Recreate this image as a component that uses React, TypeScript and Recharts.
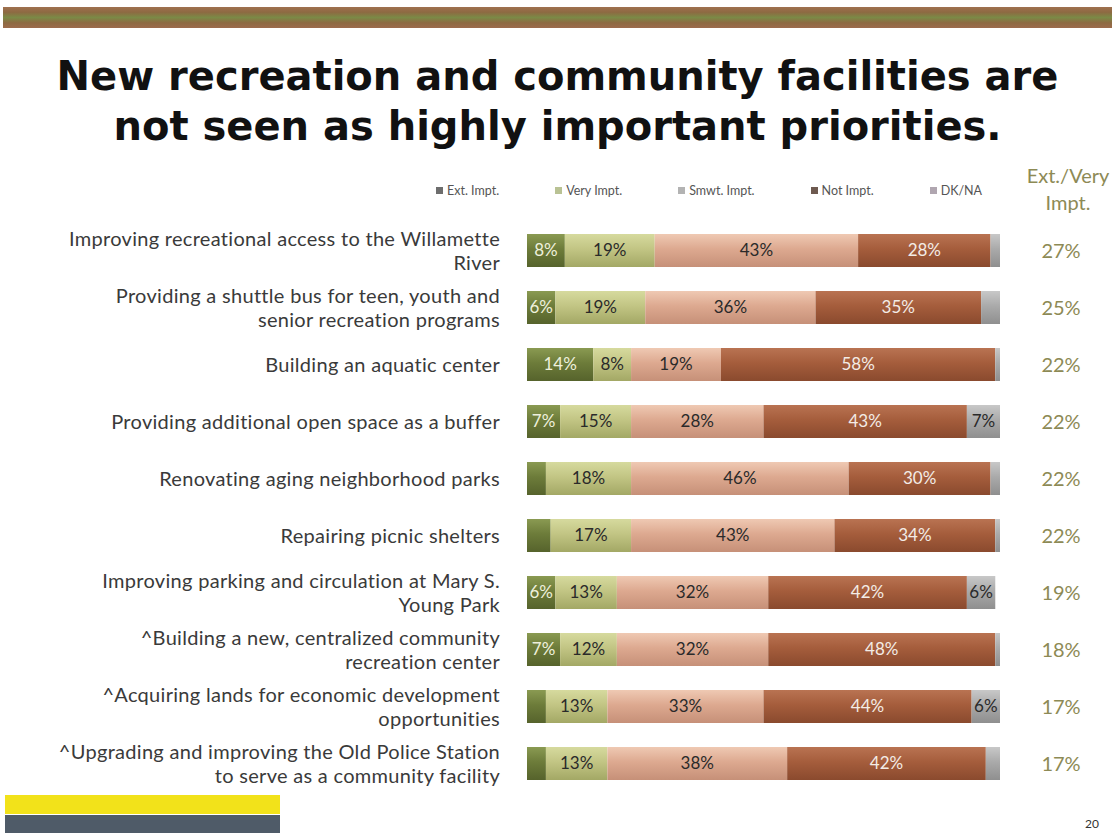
import React from "react";
import { BarChart, Bar, XAxis, YAxis, Legend, LabelList } from "recharts";

/* ── survey data: share of respondents per importance rating ── */

const categories = [
  "Improving recreational access to the Willamette\nRiver",
  "Providing a shuttle bus for teen, youth and\nsenior recreation programs",
  "Building an aquatic center",
  "Providing additional open space as a buffer",
  "Renovating aging neighborhood parks",
  "Repairing picnic shelters",
  "Improving parking and circulation at Mary S.\nYoung Park",
  "^Building a new, centralized community\nrecreation center",
  "^Acquiring lands for economic development\nopportunities",
  "^Upgrading and improving the Old Police Station\nto serve as a community facility",
];

const extImpt = [8, 6, 14, 7, 4, 5, 6, 7, 4, 4];
const veryImpt = [19, 19, 8, 15, 18, 17, 13, 12, 13, 13];
const smwtImpt = [43, 36, 19, 28, 46, 43, 32, 32, 33, 38];
const notImpt = [28, 35, 58, 43, 30, 34, 42, 48, 44, 42];
const dkNa = [2, 4, 1, 7, 2, 1, 6, 1, 6, 3];
const extVery = ["27%", "25%", "22%", "22%", "22%", "22%", "19%", "18%", "17%", "17%"];

const data = categories.map((name, i) => ({
  name,
  total: extVery[i],
  ext: extImpt[i],
  very: veryImpt[i],
  smwt: smwtImpt[i],
  not: notImpt[i],
  dk: dkNa[i],
}));

const series = [
  { key: "ext", label: "Ext. Impt.", top: "#8a9a52", mid: "#6d7c3a", bot: "#56632c", swatch: "#6d6d6d", text: "#eef0dc" },
  { key: "very", label: "Very Impt.", top: "#d6da9e", mid: "#c2c584", bot: "#a3a865", swatch: "#b9c294", text: "#2a2a2a" },
  { key: "smwt", label: "Smwt. Impt.", top: "#efc9b3", mid: "#dda990", bot: "#c69078", swatch: "#b3b3b3", text: "#2a2a2a" },
  { key: "not", label: "Not Impt.", top: "#b97352", mid: "#a55d3c", bot: "#8a4a2e", swatch: "#6e5a50", text: "#f3ece6" },
  { key: "dk", label: "DK/NA", top: "#c8c8c8", mid: "#aaaaaa", bot: "#8f8f8f", swatch: "#b0a6b0", text: "#2a2a2a" },
];

const barFont = "Lato, 'Open Sans', sans-serif";

function CategoryTick(props: any) {
  const { x, y, payload } = props;
  const lines: string[] = String(payload.value).split("\n");
  const lh = 24;
  const start = y - ((lines.length - 1) * lh) / 2;
  return (
    <text
      x={x - 19}
      y={start}
      textAnchor="end"
      fontFamily={barFont}
      fontSize={20}
      letterSpacing={0.3}
      fill="#3a3a3a"
    >
      {lines.map((l, i) => (
        <tspan key={i} x={x - 19} y={start + i * lh} dy="0.35em">
          {l}
        </tspan>
      ))}
    </text>
  );
}

function TotalTick(props: any) {
  const { x, y, payload } = props;
  return (
    <text x={x + 59} y={y} dy="0.35em" textAnchor="middle" fontFamily={barFont} fontSize={20} fill="#8d8a55">
      {payload.value}
    </text>
  );
}

function makeLabel(color: string) {
  return (props: any) => {
    const { x, y, width, height, value } = props;
    if (value < 6) return null;
    return (
      <text
        x={x + width / 2}
        y={y + height / 2}
        dy="0.35em"
        textAnchor="middle"
        fontFamily={barFont}
        fontSize={17}
        fill={color}
      >
        {value}%
      </text>
    );
  };
}

function LegendBox() {
  return (
    <div style={{ display: "flex", gap: 56, fontFamily: barFont, fontSize: 12.5, color: "#555" }}>
      {series.map((s) => (
        <span key={s.key} style={{ display: "flex", alignItems: "center" }}>
          <span style={{ width: 7, height: 7, background: s.swatch, marginRight: 4, display: "inline-block" }} />
          {s.label}
        </span>
      ))}
    </div>
  );
}

export default function App() {
  return (
    <div style={{ position: "absolute", left: 0, top: 0, width: 1115, height: 840, background: "#fff", overflow: "hidden" }}>
      {/* top band */}
      <div
        style={{
          position: "absolute", left: 3, top: 7, width: 1109, height: 21,
          background: "linear-gradient(#a0704f 0%, #8d6a42 25%, #7b8a46 50%, #8d6a42 75%, #9c6b4c 100%)",
        }}
      />
      <div
        style={{
          position: "absolute", left: 0, top: 51, width: 1115, textAlign: "center",
          fontFamily: "'DejaVu Sans', Verdana, sans-serif", fontWeight: 700, fontSize: 40,
          lineHeight: "50px", color: "#111",
        }}
      >
        New recreation and community facilities are
        <br />
        not seen as highly important priorities.
      </div>
      <div
        style={{
          position: "absolute", left: 1023, top: 162, width: 90, textAlign: "center",
          fontFamily: barFont, fontSize: 20, lineHeight: "27px", color: "#8d8a55",
        }}
      >
        Ext./Very
        <br />
        Impt.
      </div>
      <div style={{ position: "absolute", left: 0, top: 0 }}>
        <BarChart
          width={1115}
          height={840}
          data={data}
          layout="vertical"
          barCategoryGap={0}
          margin={{ top: 207, right: 0, bottom: 48, left: 0 }}
        >
          <defs>
            {series.map((s) => (
              <linearGradient key={s.key} id={"g-" + s.key} x1="0" y1="0" x2="0" y2="1">
                <stop offset="0%" stopColor={s.top} />
                <stop offset="45%" stopColor={s.mid} />
                <stop offset="100%" stopColor={s.bot} />
              </linearGradient>
            ))}
          </defs>
          <XAxis type="number" domain={[0, 100]} hide />
          <YAxis
            yAxisId="cat"
            type="category"
            dataKey="name"
            width={527}
            axisLine={false}
            tickLine={false}
            tick={<CategoryTick />}
            interval={0}
          />
          <YAxis
            yAxisId="tot"
            orientation="right"
            type="category"
            dataKey="total"
            width={115}
            axisLine={false}
            tickLine={false}
            tickSize={0}
            tick={<TotalTick />}
            interval={0}
          />
          <Legend
            verticalAlign="top"
            content={<LegendBox />}
            wrapperStyle={{ position: "absolute", top: 183, left: 436, width: 620 }}
          />
          {series.map((s) => (
            <Bar
              key={s.key}
              yAxisId="cat"
              dataKey={s.key}
              name={s.label}
              stackId="a"
              barSize={33}
              fill={`url(#g-${s.key})`}
              isAnimationActive={false}
            >
              <LabelList dataKey={s.key} content={makeLabel(s.text)} />
            </Bar>
          ))}
        </BarChart>
      </div>
      {/* footer blocks */}
      <div style={{ position: "absolute", left: 5, top: 795, width: 275, height: 19, background: "#f2e21a" }} />
      <div style={{ position: "absolute", left: 5, top: 815, width: 275, height: 18, background: "#4f5b68" }} />
      <div style={{ position: "absolute", left: 1085, top: 816, fontFamily: barFont, fontSize: 12, color: "#333" }}>20</div>
    </div>
  );
}
